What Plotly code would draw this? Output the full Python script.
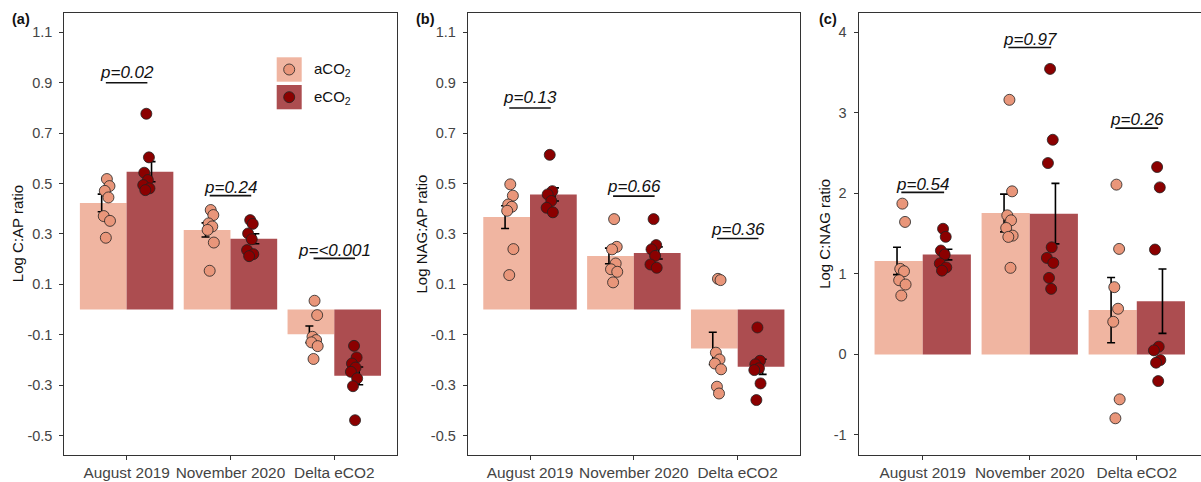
import plotly.graph_objects as go

# ---------------- data ----------------
categories = ["August 2019", "November 2020", "Delta eCO2"]

# Panel (a) Log C:AP ratio
cap_a_mean = [0.423, 0.316, -0.098]
cap_e_mean = [0.547, 0.281, -0.263]
cap_a_se = [0.035, 0.028, 0.033]
cap_e_se = [0.040, 0.020, 0.035]
cap_a_pts = [[0.518, 0.490, 0.471, 0.445, 0.371, 0.352, 0.285],
             [0.395, 0.375, 0.342, 0.330, 0.316, 0.266, 0.154],
             [0.035, -0.022, -0.108, -0.121, -0.130, -0.145, -0.196]]
cap_e_pts = [[0.777, 0.604, 0.543, 0.514, 0.494, 0.481, 0.474],
             [0.355, 0.340, 0.302, 0.279, 0.236, 0.220, 0.212],
             [-0.144, -0.190, -0.214, -0.230, -0.247, -0.273, -0.304, -0.439]]
cap_p = ["p=0.02", "p=0.24", "p=<0.001"]
cap_p_text_y = [0.94, 0.485, 0.236]
cap_p_line_y = [0.90, 0.452, 0.203]

# Panel (b) Log NAG:AP ratio
nag_a_mean = [0.367, 0.213, -0.154]
nag_e_mean = [0.457, 0.225, -0.227]
nag_a_se = [0.045, 0.031, 0.064]
nag_e_se = [0.026, 0.024, 0.030]
nag_a_pts = [[0.497, 0.452, 0.417, 0.408, 0.392, 0.240, 0.137],
             [0.359, 0.249, 0.239, 0.183, 0.160, 0.150, 0.108],
             [0.122, 0.117, -0.171, -0.198, -0.214, -0.237, -0.306, -0.333]]
nag_e_pts = [[0.614, 0.470, 0.457, 0.431, 0.404, 0.386],
             [0.359, 0.256, 0.239, 0.213, 0.179, 0.166],
             [-0.071, -0.203, -0.217, -0.233, -0.240, -0.293, -0.359]]
nag_p = ["p=0.13", "p=0.66", "p=0.36"]
nag_p_text_y = [0.84, 0.487, 0.318]
nag_p_line_y = [0.80, 0.450, 0.282]

# Panel (c) Log C:NAG ratio
cn_a_mean = [1.161, 1.756, 0.550]
cn_e_mean = [1.240, 1.748, 0.661]
cn_a_se = [0.170, 0.234, 0.405]
cn_e_se = [0.066, 0.376, 0.400]
cn_a_pts = [[1.872, 1.645, 1.062, 1.033, 0.921, 0.868, 0.731],
            [3.161, 2.025, 1.727, 1.665, 1.570, 1.475, 1.459, 1.075],
            [2.108, 1.310, 0.835, 0.567, 0.405, -0.558, -0.793]]
cn_e_pts = [[1.56, 1.46, 1.29, 1.24, 1.13, 1.08, 1.04],
            [3.545, 2.665, 2.376, 1.330, 1.198, 1.136, 0.950, 0.814],
            [2.327, 2.074, 1.302, 0.096, 0.050, -0.070, -0.103, -0.331]]
cn_p = ["p=0.54", "p=0.97", "p=0.26"]
cn_p_text_y = [2.116, 3.913, 2.913]
cn_p_line_y = [2.012, 3.810, 2.810]

y_ticks_ab = [-0.5, -0.3, -0.1, 0.1, 0.3, 0.5, 0.7, 0.9, 1.1]
y_ticks_c = [-1, 0, 1, 2, 3, 4]

# ---------------- style ----------------
BAR_A = "#F0B5A1"
BAR_E = "#AC4D50"
PT_A = "#E9967A"
PT_E = "#8B0000"
TICK_COL = "#444444"
FONT = "Liberation Sans, Arial, sans-serif"
JITTER = [0.0, 0.025, -0.02, 0.015, -0.03, 0.03, -0.01, 0.01]
BAR_OFF = 0.225
ERR_OFF = 0.24
PT_OFF = 0.19

W, H = 1201, 482
ydom = [(H - 455) / H, (H - 12.7) / H]
xdoms = [[64.3 / W, 396.6 / W], [467.7 / W, 800 / W], [858.5 / W, 1.0]]

panels = [
    dict(a_mean=cap_a_mean, e_mean=cap_e_mean, a_se=cap_a_se, e_se=cap_e_se,
         a_pts=cap_a_pts, e_pts=cap_e_pts, p=cap_p, pty=cap_p_text_y, ply=cap_p_line_y,
         yr=[-0.577, 1.178], ticks=y_ticks_ab, title="Log C:AP ratio", tag="(a)",
         title_x=18.3, tag_x=10),
    dict(a_mean=nag_a_mean, e_mean=nag_e_mean, a_se=nag_a_se, e_se=nag_e_se,
         a_pts=nag_a_pts, e_pts=nag_e_pts, p=nag_p, pty=nag_p_text_y, ply=nag_p_line_y,
         yr=[-0.577, 1.178], ticks=y_ticks_ab, title="Log NAG:AP ratio", tag="(b)",
         title_x=421.7, tag_x=414),
    dict(a_mean=cn_a_mean, e_mean=cn_e_mean, a_se=cn_a_se, e_se=cn_e_se,
         a_pts=cn_a_pts, e_pts=cn_e_pts, p=cn_p, pty=cn_p_text_y, ply=cn_p_line_y,
         yr=[-1.249, 4.243], ticks=y_ticks_c, title="Log C:NAG ratio", tag="(c)",
         title_x=825, tag_x=816.7),
]

fig = go.Figure()
shapes = []
annotations = []
idx = list(range(len(categories)))

def fmt(v):
    s = ("%g" % v)
    return s

for k, pn in enumerate(panels):
    sx = "" if k == 0 else str(k + 1)
    xa, ya = "x" + sx, "y" + sx
    # bars
    fig.add_trace(go.Bar(x=[i - BAR_OFF for i in idx], y=pn["a_mean"], width=0.45,
                         marker=dict(color=BAR_A, line=dict(width=0)),
                         xaxis=xa, yaxis=ya, showlegend=False))
    fig.add_trace(go.Bar(x=[i + BAR_OFF for i in idx], y=pn["e_mean"], width=0.45,
                         marker=dict(color=BAR_E, line=dict(width=0)),
                         xaxis=xa, yaxis=ya, showlegend=False))
    # error bars
    for off, mean, se in [(-ERR_OFF, pn["a_mean"], pn["a_se"]), (ERR_OFF, pn["e_mean"], pn["e_se"])]:
        fig.add_trace(go.Scatter(x=[i + off for i in idx], y=mean, mode="markers",
                                 marker=dict(size=1, color="rgba(0,0,0,0)"),
                                 error_y=dict(type="data", array=se, thickness=1.6, width=4,
                                              color="black"),
                                 xaxis=xa, yaxis=ya, showlegend=False))
    # points
    for off, pts, col in [(-PT_OFF, pn["a_pts"], PT_A), (PT_OFF, pn["e_pts"], PT_E)]:
        xs, ys = [], []
        for i, group in enumerate(pts):
            for j, v in enumerate(group):
                xs.append(i + off + JITTER[j % len(JITTER)])
                ys.append(v)
        fig.add_trace(go.Scatter(x=xs, y=ys, mode="markers",
                                 marker=dict(size=11, color=col,
                                             line=dict(color="#222222", width=0.8)),
                                 xaxis=xa, yaxis=ya, showlegend=False))
    # p labels
    for i in idx:
        annotations.append(dict(x=i, y=pn["pty"][i], xref=xa, yref=ya, text="<i>%s</i>" % pn["p"][i],
                                showarrow=False, xanchor="center", yanchor="middle",
                                font=dict(family=FONT, size=17, color="#111111")))
        shapes.append(dict(type="line", xref=xa, yref=ya, x0=i - 0.2, x1=i + 0.2,
                           y0=pn["ply"][i], y1=pn["ply"][i],
                           line=dict(color="#111111", width=1.6)))
    # y title + tag
    annotations.append(dict(x=pn["title_x"] / W, y=(ydom[0] + ydom[1]) / 2, xref="paper", yref="paper",
                            text=pn["title"], textangle=-90, showarrow=False,
                            xanchor="center", yanchor="middle",
                            font=dict(family=FONT, size=15, color="#111111")))
    annotations.append(dict(x=pn["tag_x"] / W, y=(H - 19) / H, xref="paper", yref="paper",
                            text="<b>%s</b>" % pn["tag"], showarrow=False,
                            xanchor="left", yanchor="middle",
                            font=dict(family=FONT, size=14.5, color="#111111")))
    axis_common = dict(showgrid=False, zeroline=False, showline=True, mirror=True,
                       linecolor="#333333", linewidth=1, ticks="outside", ticklen=4,
                       tickcolor="#333333", tickwidth=1)
    fig.update_layout(**{
        ("xaxis" + sx): dict(domain=xdoms[k], anchor=ya, range=[-0.6, 2.6],
                             tickvals=idx, ticktext=categories,
                             tickfont=dict(family=FONT, size=15.4, color=TICK_COL),
                             **axis_common),
        ("yaxis" + sx): dict(domain=ydom, anchor=xa, range=pn["yr"],
                             tickvals=pn["ticks"], ticktext=[fmt(t) for t in pn["ticks"]],
                             tickfont=dict(family=FONT, size=14.5, color=TICK_COL),
                             ticklabelstandoff=4,
                             **axis_common),
    })

# manual legend in panel (a)
legend_items = [("aCO<sub>2</sub>", BAR_A, PT_A, 57.3, 81.7),
                ("eCO<sub>2</sub>", BAR_E, PT_E, 85.0, 109.3)]
for label, bcol, pcol, top, bot in legend_items:
    shapes.append(dict(type="rect", xref="paper", yref="paper",
                       x0=276.7 / W, x1=301.7 / W, y0=(H - bot) / H, y1=(H - top) / H,
                       fillcolor=bcol, line=dict(width=0), layer="above"))
    cy = (top + bot) / 2
    shapes.append(dict(type="circle", xref="paper", yref="paper",
                       x0=(289.2 - 5.5) / W, x1=(289.2 + 5.5) / W,
                       y0=(H - cy - 5.5) / H, y1=(H - cy + 5.5) / H,
                       fillcolor=pcol, line=dict(color="#222222", width=0.8), layer="above"))
    annotations.append(dict(x=312 / W, y=(H - cy) / H, xref="paper", yref="paper",
                            text=label, showarrow=False, xanchor="left", yanchor="middle",
                            font=dict(family=FONT, size=15, color="#111111")))

fig.update_layout(width=W, height=H, margin=dict(l=0, r=0, t=0, b=0),
                  paper_bgcolor="white", plot_bgcolor="white",
                  barmode="overlay", shapes=shapes, annotations=annotations,
                  showlegend=False)

fig.write_html("out.html")
